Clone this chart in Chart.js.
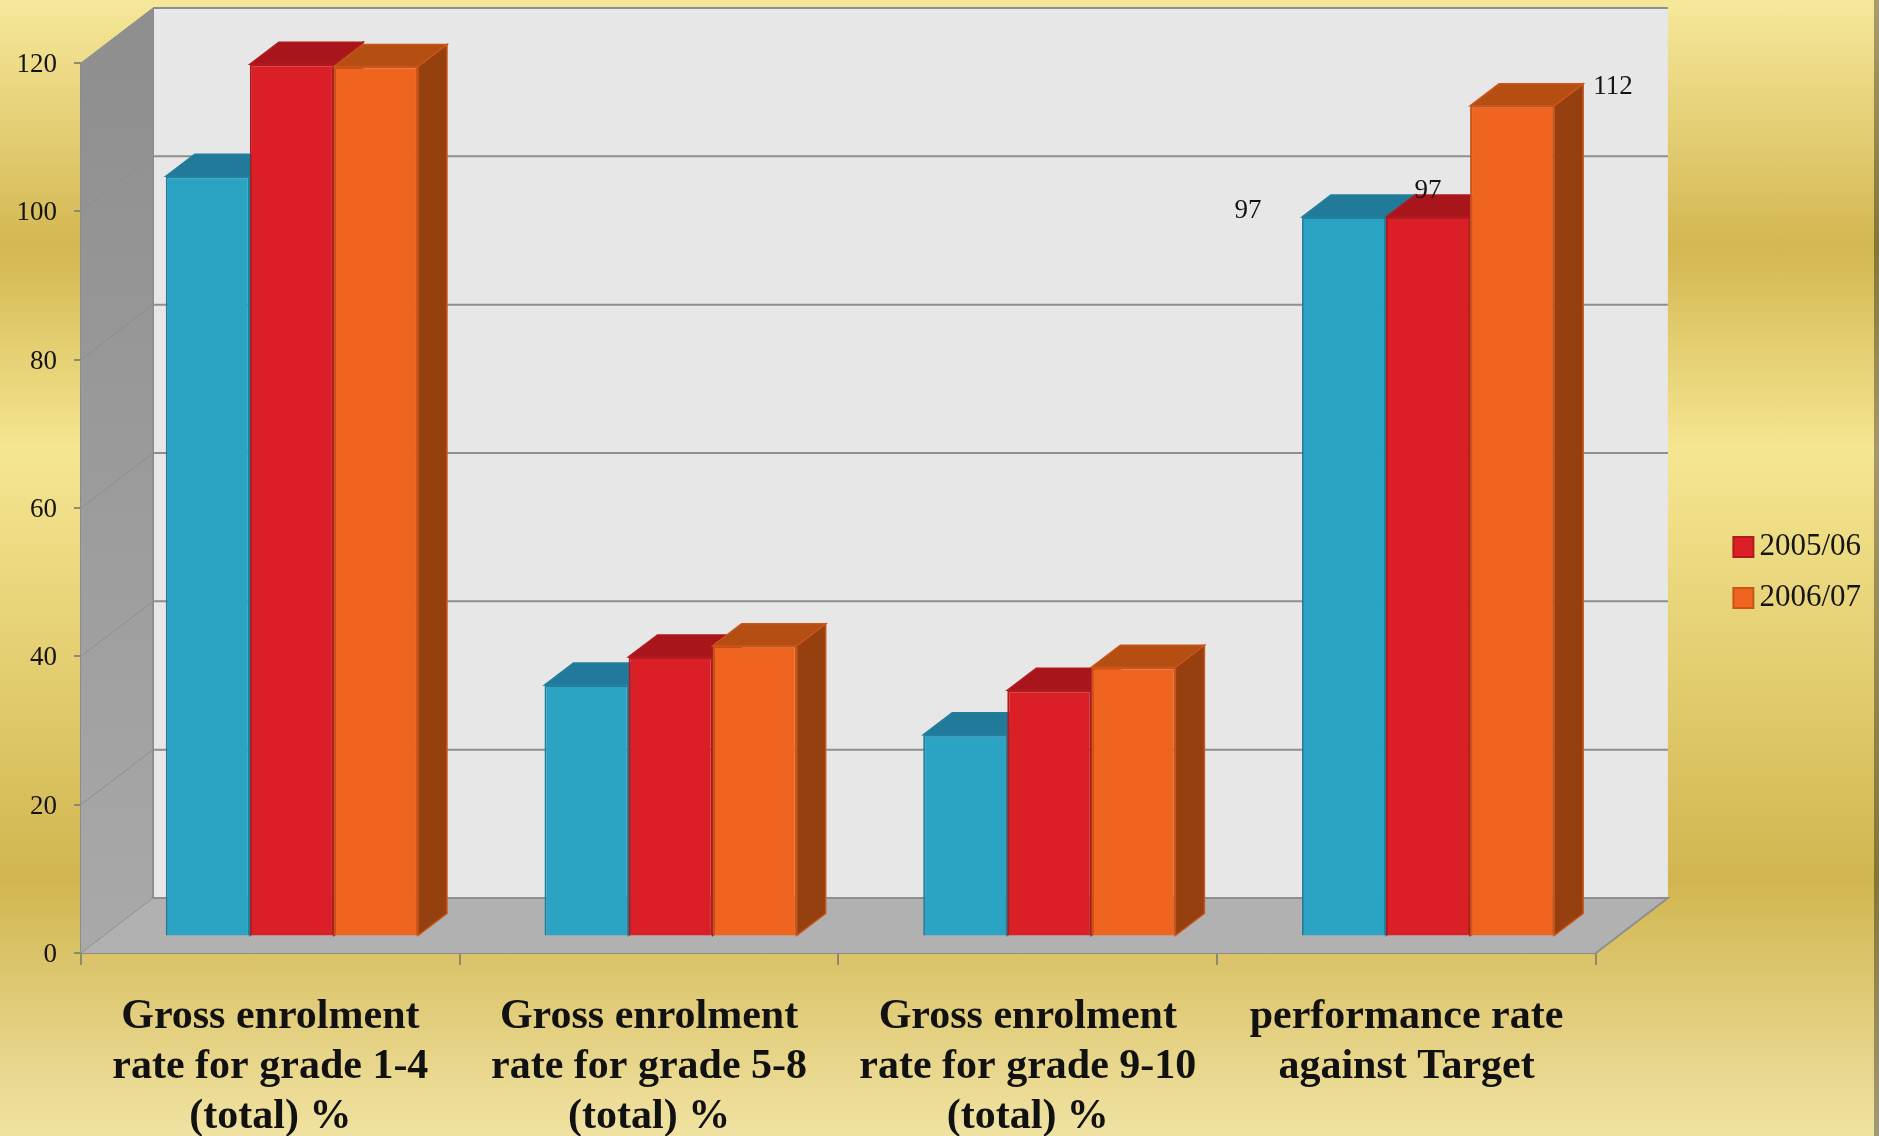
<!DOCTYPE html>
<html>
<head>
<meta charset="utf-8">
<title>Gross enrolment rate</title>
<script src="https://cdn.jsdelivr.net/npm/chart.js@4"></script>
<style>
    html, body { margin: 0; padding: 0; width: 1879px; height: 1136px; overflow: hidden; }
    body {
        position: relative;
        background: linear-gradient(to bottom, #f6e89b 0, #d3b751 246px, #f5e691 449px, #d1b650 880px, #f0e2a2 1136px);
    }
    /* dark strip down the right edge of the slide */
    #edge {
        position: absolute; left: 1874px; top: 0; width: 5px; height: 1136px;
        background: linear-gradient(to bottom, #a89d6b 0, #857636 246px, #a59a68 449px, #857636 880px, #a39a75 1136px);
    }
    #wrap { position: absolute; left: 0; top: 0; width: 1879px; height: 1136px; }
</style>
</head>
<body>
<div id="edge"></div>
<div id="wrap"><canvas id="enrolmentChart" width="1879" height="1136"></canvas></div>
<script>
// Chart data
const categories = [
    ['Gross enrolment', 'rate for grade 1-4', '(total) %'],
    ['Gross enrolment', 'rate for grade 5-8', '(total) %'],
    ['Gross enrolment', 'rate for grade 9-10', '(total) %'],
    ['performance rate', 'against Target']
];
const series2004 = [102.5, 33.9, 27.2, 97];
const series2005 = [117.6, 37.7, 33.2, 97];
const series2006 = [117.3, 39.2, 36.3, 112];

const seriesNames = ['', '2005/06', '2006/07'];
const frontColors = ['#2ba3c2', '#db1f26', '#ef641e'];
const borderColors = ['#22809f', '#ae1a20', '#c9551a'];
const topColors = ['#217a99', '#a8161c', '#b54e12'];
const sideColors = ['#1c6a85', '#8c1216', '#96400f'];

// 3D box settings (pixels)
const wallDepth = { x: 72, y: -55 };
const barOffset = { x: 21.5, y: -16.5 };
const barDepth = { x: 29, y: -22 };
const labelFont = '27px "Liberation Serif"';

function fillPoly(ctx, pts, fill, stroke) {
    ctx.beginPath();
    ctx.moveTo(pts[0][0], pts[0][1]);
    for (let i = 1; i < pts.length; i++) {
        ctx.lineTo(pts[i][0], pts[i][1]);
    }
    ctx.closePath();
    ctx.fillStyle = fill;
    ctx.fill();
    if (stroke) {
        ctx.strokeStyle = stroke;
        ctx.lineWidth = 1.5;
        ctx.stroke();
    }
}

// Draws the walls and floor behind the bars, gridlines included
const wallsPlugin = {
    id: 'walls',
    beforeDatasetsDraw(chart) {
        const ctx = chart.ctx;
        const a = chart.chartArea;
        const y = chart.scales.y;
        const dx = wallDepth.x, dy = wallDepth.y;

        // back wall
        fillPoly(ctx, [[a.left + dx, a.top + dy], [a.right + dx, a.top + dy], [a.right + dx, a.bottom + dy], [a.left + dx, a.bottom + dy]], '#e7e7e7');

        // left wall
        const wallGrad = ctx.createLinearGradient(0, a.top, 0, a.bottom);
        wallGrad.addColorStop(0, '#8f8f8f');
        wallGrad.addColorStop(1, '#a9a9a9');
        fillPoly(ctx, [[a.left, a.top], [a.left + dx, a.top + dy], [a.left + dx, a.bottom + dy], [a.left, a.bottom]], wallGrad);

        // floor
        fillPoly(ctx, [[a.left, a.bottom], [a.left + dx, a.bottom + dy], [a.right + dx, a.bottom + dy], [a.right, a.bottom]], '#b1b1b1');

        // gridlines: thin along the left wall, heavier across the back
        ctx.strokeStyle = '#8e8e8e';
        y.ticks.forEach(function(t) {
            const py = y.getPixelForValue(t.value);
            ctx.lineWidth = 1;
            ctx.beginPath();
            ctx.moveTo(a.left, py);
            ctx.lineTo(a.left + dx, py + dy);
            ctx.stroke();
            ctx.lineWidth = 2;
            ctx.beginPath();
            ctx.moveTo(a.left + dx, py + dy);
            ctx.lineTo(a.right + dx, py + dy);
            if (t.value === 0) {
                ctx.lineTo(a.right, py);
            }
            ctx.stroke();
        });
        ctx.beginPath();
        ctx.moveTo(a.left + dx, a.top + dy);
        ctx.lineTo(a.left + dx, a.bottom + dy);
        ctx.stroke();
    }
};

// Draws each series in order with its top and side faces, then the value labels
const boxesPlugin = {
    id: 'boxes',
    beforeDatasetsDraw(chart) {
        const ctx = chart.ctx;
        ctx.save();
        ctx.translate(barOffset.x, barOffset.y);
        chart.data.datasets.forEach(function(ds, i) {
            const meta = chart.getDatasetMeta(i);
            meta.data.forEach(function(bar) {
                const l = bar.x - bar.width / 2;
                const r = bar.x + bar.width / 2;
                const dx = barDepth.x, dy = barDepth.y;
                fillPoly(ctx, [[r, bar.y], [r + dx, bar.y + dy], [r + dx, bar.base + dy], [r, bar.base]], sideColors[i], borderColors[i]);
                fillPoly(ctx, [[l, bar.y], [l + dx, bar.y + dy], [r + dx, bar.y + dy], [r, bar.y]], topColors[i], borderColors[i]);
            });
            meta.controller.draw();
        });
        ctx.restore();

        // only the last group carries value labels
        const last = categories.length - 1;
        const shifts = [[-96, -6], [0, -26], [101, -19]];
        ctx.save();
        ctx.font = labelFont;
        ctx.fillStyle = '#141414';
        ctx.textAlign = 'center';
        ctx.textBaseline = 'middle';
        chart.data.datasets.forEach(function(ds, i) {
            const bar = chart.getDatasetMeta(i).data[last];
            ctx.fillText(String(ds.data[last]), bar.x + barOffset.x + shifts[i][0], bar.y + barOffset.y + shifts[i][1]);
        });
        ctx.restore();
        return false;
    }
};

const ctx = document.getElementById('enrolmentChart').getContext('2d');
const enrolmentChart = new Chart(ctx, {
    type: 'bar',
    data: {
        labels: categories,
        datasets: [series2004, series2005, series2006].map(function(values, i) {
            return {
                label: seriesNames[i],
                data: values,
                backgroundColor: frontColors[i],
                borderColor: borderColors[i],
                borderWidth: 2,
                barPercentage: 1,
                categoryPercentage: 0.666
            };
        })
    },
    plugins: [wallsPlugin, boxesPlugin],
    options: {
        responsive: false,
        animation: false,
        layout: {
            padding: { top: 9, bottom: 0, left: 0, right: 8 }
        },
        plugins: {
            tooltip: { enabled: false },
            legend: {
                position: 'right',
                labels: {
                    usePointStyle: true,
                    pointStyle: 'rect',
                    boxWidth: 1,
                    boxHeight: 20,
                    padding: 20,
                    color: '#141414',
                    font: { family: '"Liberation Serif"', size: 31 },
                    filter: function(item) {
                        return item.text !== '';
                    }
                }
            }
        },
        scales: {
            x: {
                grid: { color: '#8c8a72', lineWidth: 2, drawOnChartArea: false, tickLength: 12 },
                border: { color: '#8e8e80', width: 2 },
                ticks: {
                    color: '#111',
                    padding: 27,
                    maxRotation: 0,
                    autoSkip: false,
                    font: { family: '"Liberation Serif"', size: 42, weight: 'bold', lineHeight: 50 / 42 }
                },
                // the three-line labels run right down to the bottom edge
                afterFit: function(scale) {
                    scale.height = 183;
                }
            },
            y: {
                min: 0,
                max: 120,
                grid: { color: '#8c8a72', lineWidth: 2, drawOnChartArea: false, tickLength: 7 },
                border: { color: '#8e8e80', width: 2 },
                ticks: {
                    stepSize: 20,
                    color: '#141414',
                    padding: 17,
                    labelOffset: 2,
                    font: { family: '"Liberation Serif"', size: 27 }
                },
                afterFit: function(scale) {
                    scale.width = 81;
                }
            },
            // keeps the empty band between the plot and the legend
            gap: {
                position: 'right',
                display: true,
                grid: { display: false },
                border: { display: false },
                ticks: { display: false },
                afterFit: function(scale) {
                    scale.width = 127;
                }
            },
            // headroom for the back wall above the plot
            headroom: {
                position: 'top',
                display: true,
                grid: { display: false },
                border: { display: false },
                ticks: { display: false },
                afterFit: function(scale) {
                    scale.height = 54;
                }
            }
        }
    }
});
</script>
</body>
</html>
